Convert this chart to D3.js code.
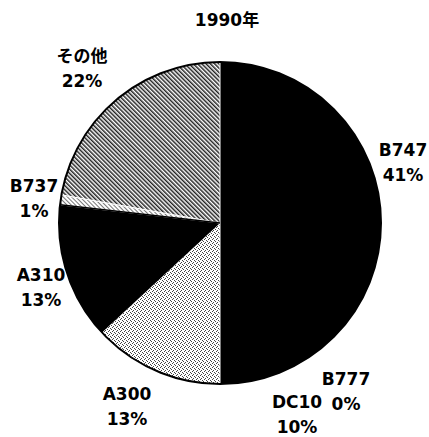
<!DOCTYPE html>
<html>
<head>
<meta charset="utf-8">
<script src="https://cdn.jsdelivr.net/npm/d3@7"></script>
<style>
  html, body { margin: 0; padding: 0; background: #fff; }
  #chart { width: 429px; height: 437px; }
</style>
</head>
<body>
<div id="chart"></div>
<script>
// ===== 1990 AIRCRAFT SHARE PIE =====

// Data (share of fleet, %)
const categories = ['B747', 'B777', 'DC10', 'A300', 'A310', 'B737', 'その他'];
const shares = [40.5, 0.2, 9.3, 13.1, 13.7, 1.0, 22.2];
const pctLabels = ['41%', '0%', '10%', '13%', '13%', '1%', '22%'];
const title = '1990年';

const width = 429, height = 437;
const cx = 220, cy = 223, radius = 161;
const font = "'DejaVu Sans', 'Noto Sans CJK JP', sans-serif";

// label anchor (centre x, first baseline y), placed like the original
const labelAt = {
  'B747': [403, 156],
  'B777': [346, 385],
  'DC10': [297, 408],
  'A300': [127, 400],
  'A310': [41, 281],
  'B737': [34, 192],
  'その他': [82, 62]
};

const svg = d3.select('#chart')
  .append('svg')
  .attr('width', width)
  .attr('height', height);

const defs = svg.append('defs');

// diagonal hatch for "その他" (lines run top-left to bottom-right)
const hatch = defs.append('pattern')
  .attr('id', 'hatch')
  .attr('patternUnits', 'userSpaceOnUse')
  .attr('width', 3)
  .attr('height', 3)
  .attr('patternTransform', 'rotate(-45)');
hatch.append('rect').attr('width', 3).attr('height', 3).attr('fill', '#fff');
hatch.append('rect').attr('width', 1.5).attr('height', 3).attr('fill', '#222');

// light stipple for A300
const stipple = defs.append('pattern')
  .attr('id', 'stipple')
  .attr('patternUnits', 'userSpaceOnUse')
  .attr('width', 4)
  .attr('height', 4);
stipple.append('rect').attr('width', 4).attr('height', 4).attr('fill', '#fff');
[[0, 0], [2, 1], [1, 3], [3, 2]].forEach(([x, y]) => {
  stipple.append('rect').attr('x', x).attr('y', y)
    .attr('width', 1).attr('height', 1).attr('fill', '#444');
});

// lighter hatch for B737 sliver
const hatchLight = defs.append('pattern')
  .attr('id', 'hatch-light')
  .attr('patternUnits', 'userSpaceOnUse')
  .attr('width', 3)
  .attr('height', 3)
  .attr('patternTransform', 'rotate(-45)');
hatchLight.append('rect').attr('width', 3).attr('height', 3).attr('fill', '#fff');
hatchLight.append('rect').attr('width', 1).attr('height', 3).attr('fill', '#777');

const fill = d3.scaleOrdinal()
  .domain(categories)
  .range(['#000', '#000', '#000', 'url(#stipple)', '#000', 'url(#hatch-light)', 'url(#hatch)']);

const pie = d3.pie().sort(null).value(d => d.value);
const arc = d3.arc().innerRadius(0).outerRadius(radius);

const rows = categories.map((c, i) => ({ name: c, value: shares[i], pct: pctLabels[i] }));
const arcs = pie(rows);

const g = svg.append('g').attr('transform', `translate(${cx}, ${cy})`);

// solid disc underneath so black slices join without seams
g.append('circle')
  .attr('r', radius)
  .attr('fill', '#000');

g.selectAll('path.slice')
  .data(arcs)
  .join('path')
  .attr('class', 'slice')
  .attr('d', arc)
  .attr('fill', d => fill(d.data.name))
  .attr('stroke', d => fill(d.data.name) === '#000' ? 'none' : '#fff')
  .attr('stroke-width', 1);

// thin black rim between B737 and A310
g.selectAll('path.rim')
  .data(arcs.filter(d => d.data.name === 'B737'))
  .join('path')
  .attr('class', 'rim')
  .attr('d', d => d3.line()([[0, 0], d3.pointRadial(d.startAngle, radius)]))
  .attr('stroke', '#000')
  .attr('stroke-width', 1.5);

// outline of the pie
g.append('circle')
  .attr('r', radius)
  .attr('fill', 'none')
  .attr('stroke', '#000')
  .attr('stroke-width', 2);

// title
svg.append('text')
  .attr('x', 227)
  .attr('y', 26)
  .attr('text-anchor', 'middle')
  .attr('font-size', '17px')
  .attr('font-weight', 'bold')
  .attr('font-family', font)
  .attr('fill', '#000')
  .text(title);

// slice labels: name, then percentage
const labels = svg.selectAll('text.label')
  .data(rows)
  .join('text')
  .attr('class', 'label')
  .attr('text-anchor', 'middle')
  .attr('font-size', '17px')
  .attr('font-weight', 'bold')
  .attr('font-family', font)
  .attr('fill', '#000');

labels.append('tspan')
  .attr('x', d => labelAt[d.name][0])
  .attr('y', d => labelAt[d.name][1])
  .text(d => d.name);

labels.append('tspan')
  .attr('x', d => labelAt[d.name][0])
  .attr('y', d => labelAt[d.name][1] + 25)
  .text(d => d.pct);
</script>
</body>
</html>
